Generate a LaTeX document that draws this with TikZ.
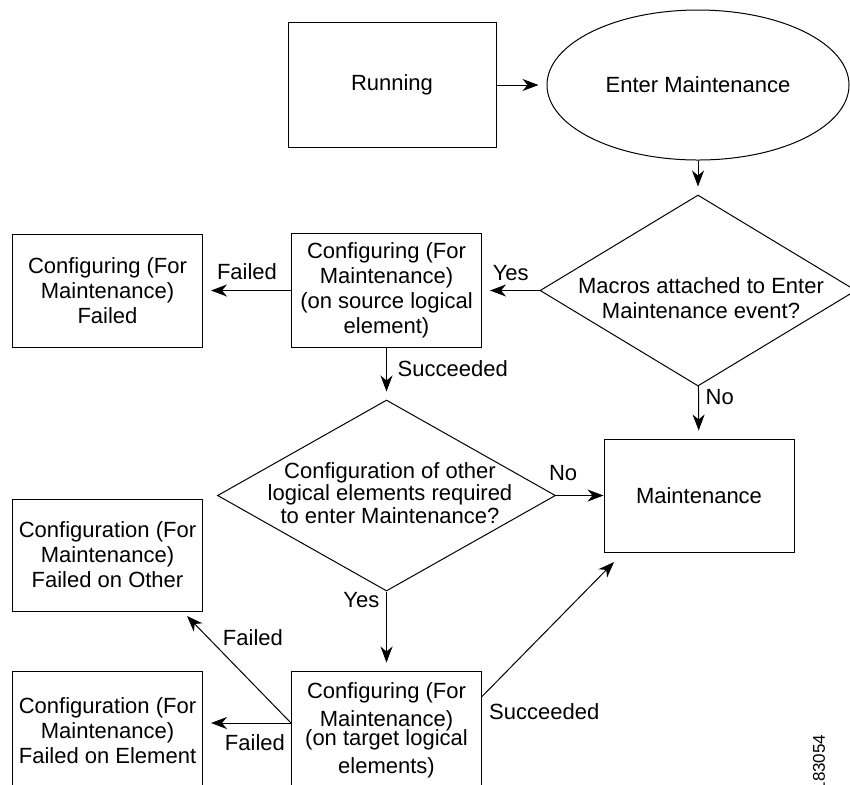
\documentclass[tikz,border=0pt]{standalone}
\usepackage{fontspec}
\setmainfont{Liberation Sans}
\usetikzlibrary{shapes.geometric,arrows.meta}
\begin{document}
\begin{tikzpicture}[x=0.5pt,y=-0.5pt,line width=0.5pt,
    >={Stealth[length=8pt,width=6pt,inset=2.5pt]},
    font=\fontsize{11}{12.5}\selectfont,
    box/.style={draw,rectangle,minimum width=95pt,minimum height=56.5pt,inner sep=0pt,align=center},
    decision/.style={draw,diamond,inner sep=0pt},
    arr/.style={->,shorten >=4pt}]
\useasboundingbox (0,0) rectangle (850,784);

\node[box,minimum width=104pt,minimum height=62.5pt] (running) at (392,85) {Running};
\node[draw,ellipse,minimum width=151pt,minimum height=75pt] (entermaint) at (698,85) {Enter Maintenance};
\node[decision,minimum width=158pt,minimum height=95.5pt] (macros) at (698,290.5) {};
\node[align=center] (macrostext) at (701,298.5) {Macros attached to Enter\\Maintenance event?};
\node[box,minimum height=57pt] (cfgsrc) at (386.5,290.5) {Configuring (For\\Maintenance)\\(on source logical\\element)};
\node[box] (srcfailed) at (107.5,290.5) {Configuring (For\\Maintenance)\\Failed};
\node[decision,minimum width=169pt,minimum height=95.5pt] (othercfg) at (386.5,495.5) {};
\node[align=center,font=\fontsize{11}{9.75}\selectfont] (othercfgtext) at (390,493) {Configuration of other\\logical elements required\\to enter Maintenance?};
\node[box] (maint) at (699,495.5) {Maintenance};
\node[box,minimum height=56pt] (otherfailed) at (107.5,555) {Configuration (For\\Maintenance)\\Failed on Other};
\node[box,minimum height=59.5pt,font=\fontsize{11}{14}\selectfont] (cfgtarget) at (386.5,730.5) {Configuring (For\\Maintenance)\\[-4.5pt](on target logical\\elements)};
\node[box,minimum height=59.5pt] (elemfailed) at (107.5,730.5) {Configuration (For\\Maintenance)\\Failed on Element};
\node[rotate=90,font=\fontsize{8.5}{10}\selectfont] (fignum) at (819,763) {183054};

\coordinate (failstart) at ([yshift=3.75pt]cfgtarget.west);
\coordinate (othertip) at (187,616);
\coordinate (succstart) at ([yshift=-13pt]cfgtarget.north east);
\coordinate (succtip) at (614,562);

\draw[arr] (running) -- (entermaint);
\draw[arr] (entermaint) -- (macros);
\draw[arr] (macros) -- node[above=1.5pt]{Yes} (cfgsrc);
\draw[arr] (cfgsrc) -- node[above=2pt]{Failed} (srcfailed);
\draw[arr] (cfgsrc) -- node[right=2pt,pos=0.4]{Succeeded} (othercfg);
\draw[arr] (macros) -- node[right,pos=0.2]{No} (maint);
\draw[->] (othercfg) -- node[above=4pt,pos=0.15]{No} (maint);
\draw[arr] (othercfg) -- node[left,pos=0.11]{Yes} (cfgtarget);
\draw[->] (succstart) node[below right]{Succeeded} -- (succtip);
\draw[arr] (failstart) -- node[below=2pt,pos=0.41]{Failed} (failstart -| elemfailed.east);
\draw[->] (failstart) -- node[right=4pt,pos=0.8]{Failed} (othertip);

\end{tikzpicture}
\end{document}
